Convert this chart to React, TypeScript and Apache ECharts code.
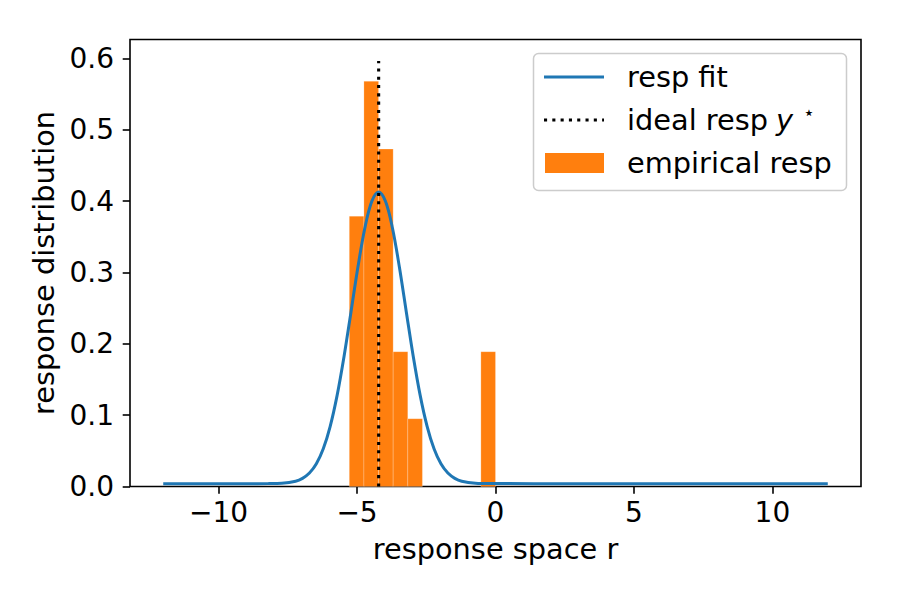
import React, { useEffect, useRef } from "react";
import * as echarts from "echarts";

// Empirical response histogram (density), one entry per non-empty bin
const binStarts = [-5.28, -4.752, -4.224, -3.696, -3.168, -0.528];
const binEnds = [-4.752, -4.224, -3.696, -3.168, -2.64, 0.0];
const binDensity = [0.379, 0.568, 0.473, 0.189, 0.095, 0.189];

// Fitted response curve
const fitX = [
  -12, -9, -8.2, -7.72, -7.22, -6.97, -6.72, -6.47, -6.22, -5.97, -5.72, -5.47,
  -5.22, -4.97, -4.72, -4.47, -4.22, -3.97, -3.72, -3.47, -3.22, -2.97, -2.72,
  -2.47, -2.22, -1.97, -1.72, -1.47, -1.22, -0.72, -0.22, 3, 12,
];
const fitY = [
  0.004, 0.004, 0.0041, 0.0046, 0.0074, 0.0114, 0.0188, 0.0318, 0.0528, 0.0843,
  0.1277, 0.1823, 0.2444, 0.3073, 0.3621, 0.3996, 0.413, 0.3996, 0.3621, 0.3073,
  0.2444, 0.1823, 0.1277, 0.0843, 0.0528, 0.0318, 0.0188, 0.0114, 0.0074, 0.0046,
  0.0041, 0.004, 0.004,
];

// Ideal response marker
const idealX = -4.22;
const idealTop = 0.5966;

// Axis ticks
const xTicks = [-10, -5, 0, 5, 10];
const yTicks = [0, 0.1, 0.2, 0.3, 0.4, 0.5, 0.6];

const FONT = "DejaVu Sans";
const FS = 28;
const LEG_FS = 28.8;
const BLUE = "#1f77b4";
const ORANGE = "#ff7f0e";

export default function App() {
  const ref = useRef<HTMLDivElement>(null);

  useEffect(() => {
    if (!ref.current) return;
    const chart = echarts.init(ref.current, null, { renderer: "svg" });

    const bars = binStarts.map((s, i) => [s, binEnds[i], binDensity[i]]);
    const fit = fitX.map((x, i) => [x, fitY[i]]);

    const fmtNum = (v: number) => (v < 0 ? "\u2212" + Math.abs(v) : String(v));

    const legendRows = [77, 120, 163];
    const legX0 = 544;
    const legX1 = 604;
    const legTextX = 627;

    chart.setOption({
      animation: false,
      backgroundColor: "#ffffff",
      grid: {
        left: 130,
        right: 39,
        top: 39.5,
        bottom: 113.5,
        show: true,
        borderColor: "#000",
        borderWidth: 1.6,
        backgroundColor: "transparent",
      },
      xAxis: {
        type: "value",
        min: -13.2,
        max: 13.2,
        name: "response space r",
        nameLocation: "middle",
        nameGap: 48,
        nameTextStyle: { fontFamily: FONT, fontSize: LEG_FS, color: "#000" },
        axisLine: { show: false, onZero: false },
        splitLine: { show: false },
        axisTick: {
          show: true,
          inside: false,
          length: 7.3,
          lineStyle: { color: "#000", width: 1.6 },
          customValues: xTicks,
        },
        axisLabel: {
          fontFamily: FONT,
          fontSize: FS,
          color: "#000",
          margin: 12,
          customValues: xTicks,
          formatter: (v: number) => fmtNum(v),
        },
      },
      yAxis: {
        type: "value",
        min: 0,
        max: 0.6266,
        name: "response distribution",
        nameLocation: "middle",
        nameGap: 72,
        nameTextStyle: { fontFamily: FONT, fontSize: LEG_FS, color: "#000" },
        axisLine: { show: false, onZero: false },
        splitLine: { show: false },
        axisTick: {
          show: true,
          inside: false,
          length: 7.3,
          lineStyle: { color: "#000", width: 1.6 },
          customValues: yTicks,
        },
        axisLabel: {
          fontFamily: FONT,
          fontSize: FS,
          color: "#000",
          margin: 16,
          customValues: yTicks,
          formatter: (v: number) => v.toFixed(1),
        },
      },
      series: [
        {
          type: "custom",
          name: "empirical resp",
          z: 1,
          data: bars,
          encode: { x: [0, 1], y: 2 },
          renderItem: (_params: any, api: any) => {
            const p0 = api.coord([api.value(0), api.value(2)]);
            const p1 = api.coord([api.value(1), 0]);
            return {
              type: "rect",
              shape: { x: p0[0], y: p0[1], width: p1[0] - p0[0], height: p1[1] - p0[1] },
              style: { fill: ORANGE, stroke: "rgba(255,255,255,0.35)", lineWidth: 0.6 },
            };
          },
        },
        {
          type: "line",
          name: "resp fit",
          z: 2,
          data: fit,
          smooth: 0.35,
          showSymbol: false,
          symbol: "none",
          lineStyle: { color: BLUE, width: 3 },
        },
        {
          type: "line",
          name: "ideal resp",
          z: 3,
          data: [
            [idealX, 0],
            [idealX, idealTop],
          ],
          showSymbol: false,
          symbol: "none",
          lineStyle: { color: "#000", width: 3.1, type: [3.1, 5.2], cap: "butt" },
        },
      ],
      graphic: [
        {
          type: "group",
          z: 100,
          children: [
            {
              type: "rect",
              shape: { x: 533.5, y: 53.5, width: 313, height: 137, r: 5 },
              style: { fill: "rgba(255,255,255,0.8)", stroke: "#cccccc", lineWidth: 1.5 },
            },
            {
              type: "line",
              shape: { x1: legX0, y1: legendRows[0], x2: legX1, y2: legendRows[0] },
              style: { stroke: BLUE, lineWidth: 3 },
            },
            {
              type: "line",
              shape: { x1: legX0, y1: legendRows[1], x2: legX1, y2: legendRows[1] },
              style: { stroke: "#000", lineWidth: 3.1, lineDash: [3.1, 5.2], lineCap: "butt" },
            },
            {
              type: "rect",
              shape: { x: legX0 + 1, y: legendRows[2] - 10, width: legX1 - legX0 - 1, height: 20 },
              style: { fill: ORANGE },
            },
            {
              type: "text",
              x: legTextX,
              y: legendRows[0],
              style: {
                text: "resp fit",
                font: `${LEG_FS}px '${FONT}'`,
                fill: "#000",
                verticalAlign: "middle",
              },
            },
            {
              type: "text",
              x: legTextX,
              y: legendRows[1],
              style: {
                text: "ideal resp",
                font: `${LEG_FS}px '${FONT}'`,
                fill: "#000",
                verticalAlign: "middle",
              },
            },
            {
              type: "text",
              x: 776,
              y: legendRows[1],
              style: {
                text: "y",
                font: `italic ${LEG_FS}px '${FONT}'`,
                fill: "#000",
                verticalAlign: "middle",
              },
            },
            {
              type: "text",
              x: 809,
              y: 112,
              style: {
                text: "\u22c6",
                font: `19px '${FONT}'`,
                fill: "#000",
                align: "center",
                verticalAlign: "middle",
              },
            },
            {
              type: "text",
              x: legTextX,
              y: legendRows[2],
              style: {
                text: "empirical resp",
                font: `${LEG_FS}px '${FONT}'`,
                fill: "#000",
                verticalAlign: "middle",
              },
            },
          ],
        },
      ],
    });

    return () => chart.dispose();
  }, []);

  return (
    <div
      ref={ref}
      style={{ position: "fixed", left: 0, top: 0, width: 900, height: 600, background: "#fff" }}
    />
  );
}
